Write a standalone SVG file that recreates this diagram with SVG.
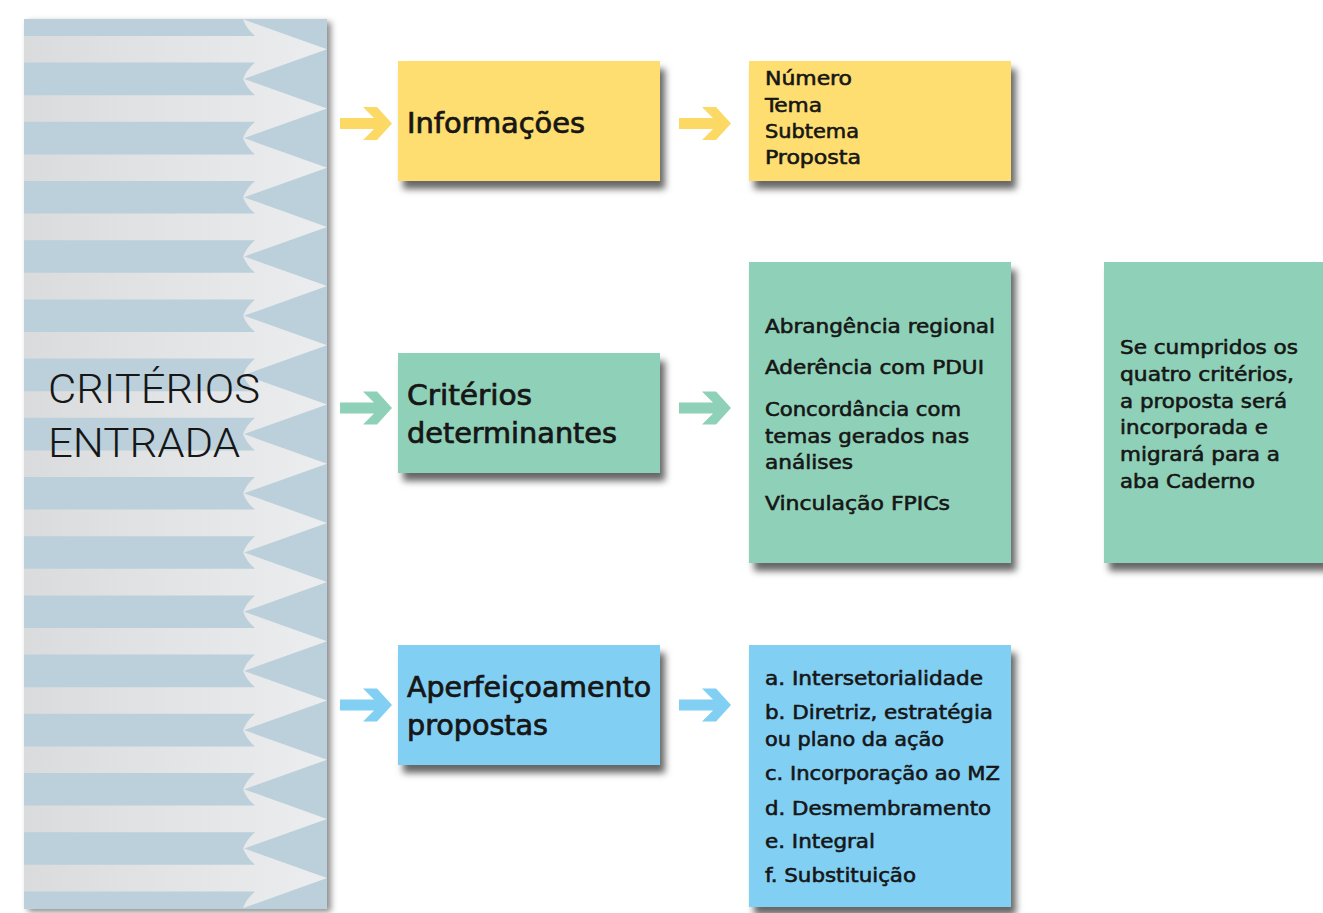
<svg xmlns="http://www.w3.org/2000/svg" width="1323" height="913" viewBox="0 0 1323 913">
<defs>
<style>
.t{font-family:"DejaVu Sans Condensed","Roboto","Liberation Sans",sans-serif;fill:#161616;stroke:#161616;stroke-width:0.55px;}
.big{font-size:29px;font-weight:500;stroke-width:0.7px;}
.sm{font-size:20px;font-weight:500;}
.title{font-family:"Roboto","Liberation Sans",sans-serif;font-size:41px;font-weight:300;fill:#161616;}
.y{fill:#fede6f;}
.g{fill:#8fd0b8;}
.b{fill:#82cff4;}
</style>
<linearGradient id="shaft" gradientUnits="userSpaceOnUse" x1="24" y1="0" x2="327" y2="0">
<stop offset="0" stop-color="#d9dbdd"/>
<stop offset="1" stop-color="#ecedee"/>
</linearGradient>
<filter id="sh" x="-10%" y="-10%" width="125%" height="130%">
<feDropShadow dx="5" dy="8" stdDeviation="3.5" flood-color="#000" flood-opacity="0.6"/>
</filter>
<filter id="psh" x="-10%" y="-5%" width="125%" height="110%">
<feDropShadow dx="4" dy="3" stdDeviation="3" flood-color="#000" flood-opacity="0.45"/>
</filter>
<path id="stripe" d="M24,-13.3 L255,-13.3 Q246,-21 243,-30 L327,0 L243,30 Q246,21 255,13.3 L24,13.3 Z" fill="url(#shaft)"/>
<path id="chev" d="M-52,-5.5 L-18,-5.5 L-29,-16.5 L-15,-16.5 L0,0 L-15,16.5 L-29,16.5 L-18,5.5 L-52,5.5 Z"/>
</defs>
<rect width="1323" height="913" fill="#ffffff"/>

<g id="criterios-entrada">
<rect x="24" y="19" width="303" height="890" fill="#bbd0db" filter="url(#psh)"/>
<use href="#stripe" y="49.3"/>
<use href="#stripe" y="108.5"/>
<use href="#stripe" y="167.7"/>
<use href="#stripe" y="226.9"/>
<use href="#stripe" y="286.1"/>
<use href="#stripe" y="345.3"/>
<use href="#stripe" y="404.5"/>
<use href="#stripe" y="463.7"/>
<use href="#stripe" y="522.9"/>
<use href="#stripe" y="582.1"/>
<use href="#stripe" y="641.3"/>
<use href="#stripe" y="700.5"/>
<use href="#stripe" y="759.7"/>
<use href="#stripe" y="818.9"/>
<use href="#stripe" y="878.1"/>
<text class="title" x="48" y="403" textLength="212" lengthAdjust="spacingAndGlyphs">CRITÉRIOS</text>
<text class="title" x="48" y="457" textLength="192" lengthAdjust="spacingAndGlyphs">ENTRADA</text>
</g>

<g id="connectors">
<use href="#chev" x="392" y="123.5" fill="#fcd965"/>
<use href="#chev" x="731" y="123.5" fill="#fcd965"/>
<use href="#chev" x="392" y="408" fill="#8ed0b8"/>
<use href="#chev" x="731" y="408" fill="#8ed0b8"/>
<use href="#chev" x="392" y="705" fill="#82cff4"/>
<use href="#chev" x="731" y="705" fill="#82cff4"/>
</g>

<g id="informacoes">
<rect class="y" x="398" y="61" width="262" height="120" filter="url(#sh)"/>
<text class="t big" x="407" y="133" textLength="178" lengthAdjust="spacingAndGlyphs">Informações</text>
</g>

<g id="informacoes-lista">
<rect class="y" x="749" y="61" width="262" height="120" filter="url(#sh)"/>
<text class="t sm" x="765" y="85" textLength="87" lengthAdjust="spacingAndGlyphs">Número</text>
<text class="t sm" x="765" y="111.5" textLength="57" lengthAdjust="spacingAndGlyphs">Tema</text>
<text class="t sm" x="765" y="138" textLength="94" lengthAdjust="spacingAndGlyphs">Subtema</text>
<text class="t sm" x="765" y="164" textLength="96" lengthAdjust="spacingAndGlyphs">Proposta</text>
</g>

<g id="criterios-determinantes">
<rect class="g" x="398" y="353" width="262" height="120" filter="url(#sh)"/>
<text class="t big" x="407" y="405" textLength="125" lengthAdjust="spacingAndGlyphs">Critérios</text>
<text class="t big" x="407" y="443" textLength="210" lengthAdjust="spacingAndGlyphs">determinantes</text>
</g>

<g id="criterios-lista">
<rect class="g" x="749" y="262" width="262" height="301" filter="url(#sh)"/>
<text class="t sm" x="765" y="333" textLength="230" lengthAdjust="spacingAndGlyphs">Abrangência regional</text>
<text class="t sm" x="765" y="374" textLength="219" lengthAdjust="spacingAndGlyphs">Aderência com PDUI</text>
<text class="t sm" x="765" y="416" textLength="196" lengthAdjust="spacingAndGlyphs">Concordância com</text>
<text class="t sm" x="765" y="443" textLength="204" lengthAdjust="spacingAndGlyphs">temas gerados nas</text>
<text class="t sm" x="765" y="469" textLength="88" lengthAdjust="spacingAndGlyphs">análises</text>
<text class="t sm" x="765" y="510" textLength="185" lengthAdjust="spacingAndGlyphs">Vinculação FPICs</text>
</g>

<g id="resultado">
<rect class="g" x="1104" y="262" width="225" height="301" filter="url(#sh)"/>
<text class="t sm" x="1120" y="354" textLength="178" lengthAdjust="spacingAndGlyphs">Se cumpridos os</text>
<text class="t sm" x="1120" y="381" textLength="174" lengthAdjust="spacingAndGlyphs">quatro critérios,</text>
<text class="t sm" x="1120" y="408" textLength="167" lengthAdjust="spacingAndGlyphs">a proposta será</text>
<text class="t sm" x="1120" y="434" textLength="148" lengthAdjust="spacingAndGlyphs">incorporada e</text>
<text class="t sm" x="1120" y="461" textLength="160" lengthAdjust="spacingAndGlyphs">migrará para a</text>
<text class="t sm" x="1120" y="488" textLength="135" lengthAdjust="spacingAndGlyphs">aba Caderno</text>
</g>

<g id="aperfeicoamento">
<rect class="b" x="398" y="645" width="262" height="120" filter="url(#sh)"/>
<text class="t big" x="407" y="697" textLength="244" lengthAdjust="spacingAndGlyphs">Aperfeiçoamento</text>
<text class="t big" x="407" y="735" textLength="141" lengthAdjust="spacingAndGlyphs">propostas</text>
</g>

<g id="aperfeicoamento-lista">
<rect class="b" x="749" y="645" width="262" height="262" filter="url(#sh)"/>
<text class="t sm" x="765" y="685" textLength="218" lengthAdjust="spacingAndGlyphs">a. Intersetorialidade</text>
<text class="t sm" x="765" y="719" textLength="228" lengthAdjust="spacingAndGlyphs">b. Diretriz, estratégia</text>
<text class="t sm" x="765" y="746" textLength="179" lengthAdjust="spacingAndGlyphs">ou plano da ação</text>
<text class="t sm" x="765" y="780" textLength="235" lengthAdjust="spacingAndGlyphs">c. Incorporação ao MZ</text>
<text class="t sm" x="765" y="815" textLength="226" lengthAdjust="spacingAndGlyphs">d. Desmembramento</text>
<text class="t sm" x="765" y="848" textLength="110" lengthAdjust="spacingAndGlyphs">e. Integral</text>
<text class="t sm" x="765" y="882" textLength="151" lengthAdjust="spacingAndGlyphs">f. Substituição</text>
</g>
</svg>
